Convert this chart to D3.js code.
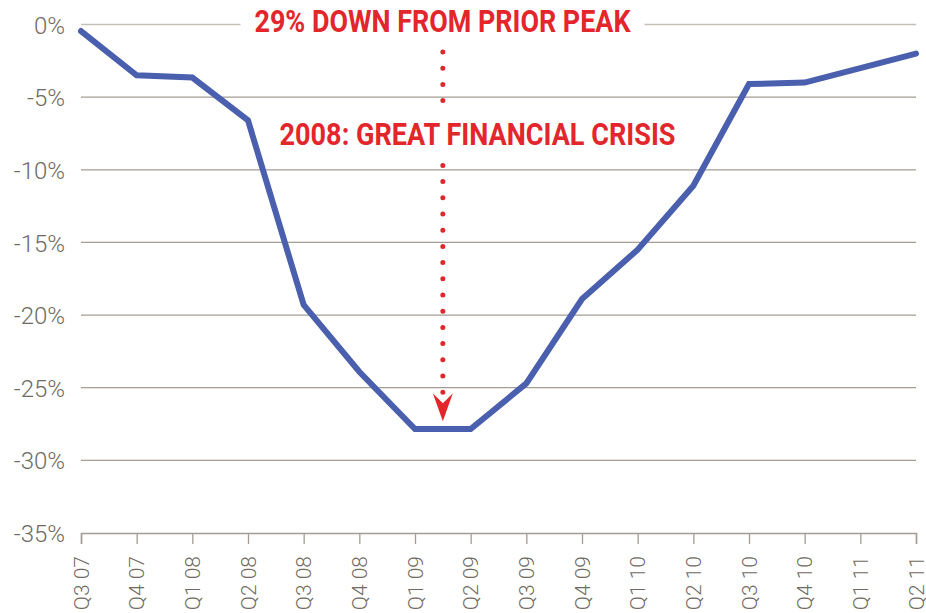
<!DOCTYPE html>
<html>
<head>
<meta charset="utf-8">
<title>29% down from prior peak</title>
<script src="https://d3js.org/d3.v7.min.js"></script>
<style>
  body { margin: 0; background: #fff; }
  #plot { width: 926px; height: 613px; }
  text { font-family: Roboto, "DejaVu Sans", sans-serif; }
</style>
</head>
<body>
<div id="plot"></div>
<script>
// quarters on the x axis
var quarters = ['Q3 07','Q4 07','Q1 08','Q2 08','Q3 08','Q4 08','Q1 09','Q2 09',
                'Q3 09','Q4 09','Q1 10','Q2 10','Q3 10','Q4 10','Q1 11','Q2 11']
// drawdown from prior peak, %
var drawdown = [-0.45, -3.5, -3.65, -6.6, -19.3, -23.9, -27.85, -27.85,
                -24.7, -18.9, -15.5, -11.1, -4.1, -4.0, -3.0, -2.0]
var yTicks = [0, -5, -10, -15, -20, -25, -30, -35]
var topNote = '29% DOWN FROM PRIOR PEAK'
var midNote = '2008: GREAT FINANCIAL CRISIS'
var noteQuarter = 6.5   // arrow sits between Q1 09 and Q2 09

var margin = {top: 24, bottom: 80, left: 81, right: 10}
var width = 926 - margin.left - margin.right
var height = 613 - margin.top - margin.bottom

var svg = d3.select('#plot').append('svg')
    .attr('width', 926)
    .attr('height', 613)
  .append('g')
    .attr('transform', 'translate(' + margin.left + ',' + margin.top + ')')

var xScale = d3.scaleLinear()
    .domain([0, quarters.length - 1])
    .range([0, width])
var yScale = d3.scaleLinear()
    .domain([0, -35])
    .range([0.5, height])

var grey = '#a39d94'
var red = '#e3262b'

// gridlines
svg.selectAll('.grid')
    .data(yTicks.slice(0, -1))
    .enter().append('line')
      .attr('class', 'grid')
      .attr('x1', 0).attr('x2', width)
      .attr('y1', function(d){ return yScale(d) })
      .attr('y2', function(d){ return yScale(d) })
      .attr('stroke', function(d){ return d == 0 ? '#c4c0b8' : grey })
      .attr('stroke-width', 1.3)

// y labels
var yAxis = svg.append('g')
    .call(d3.axisLeft(yScale).tickValues(yTicks).tickSize(0).tickPadding(16)
      .tickFormat(function(d){ return (d == 0 ? '' : '-') + Math.abs(d) + '%' }))
yAxis.select('.domain').remove()
yAxis.selectAll('text')
    .attr('fill', '#6f6a62')
    .style('font-size', '24px')
    .style('font-weight', 300)
    .attr('dy', '0.36em')

// x axis
var xAxis = svg.append('g')
    .attr('transform', 'translate(0,' + height + ')')
    .call(d3.axisBottom(xScale)
      .tickValues(d3.range(quarters.length)).tickSize(11).tickPadding(12)
      .tickFormat(function(d){ return quarters[d] }))
xAxis.select('.domain').attr('stroke', grey).attr('stroke-width', 1.5)
xAxis.selectAll('line').attr('stroke', grey).attr('stroke-width', 1.3)
xAxis.selectAll('text')
    .attr('fill', '#6f6a62')
    .style('font-size', '21px')
    .style('font-weight', 300)
    .attr('text-anchor', 'end')
    .attr('transform', 'rotate(-90)')
    .attr('x', -23).attr('y', 0).attr('dy', '0.34em')

// the drawdown line
var line = d3.line()
    .x(function(d, i){ return xScale(i) })
    .y(function(d){ return yScale(d) })
svg.append('path')
    .datum(drawdown)
    .attr('d', line)
    .attr('fill', 'none')
    .attr('stroke', '#4a5fad')
    .attr('stroke-width', 6)
    .attr('stroke-linejoin', 'miter')
    .attr('stroke-linecap', 'round')

// dotted arrow
var ax = xScale(noteQuarter)
var arrowTip = yScale(-27.3)
svg.append('line')
    .attr('x1', ax).attr('x2', ax)
    .attr('y1', 28).attr('y2', 369)
    .attr('stroke', red)
    .attr('stroke-width', 5)
    .attr('stroke-linecap', 'round')
    .attr('stroke-dasharray', '0,16.2')
svg.append('path')
    .attr('d', 'M' + (ax - 10) + ',' + (arrowTip - 28) + ' L' + ax + ',' + (arrowTip - 18) +
               ' L' + (ax + 10) + ',' + (arrowTip - 28) + ' L' + ax + ',' + arrowTip + 'Z')
    .attr('fill', red)

// notes with white backing
function note(txt, cx, cy, w, padX, top, bot) {
  svg.append('rect')
    .attr('x', cx - w / 2 - padX).attr('y', cy - top)
    .attr('width', w + 2 * padX).attr('height', top + bot)
    .attr('fill', '#fff')
  svg.append('text')
    .attr('x', cx).attr('y', cy)
    .attr('text-anchor', 'middle')
    .attr('fill', red)
    .style('font-size', '31px')
    .style('font-weight', 700)
    .attr('textLength', w)
    .attr('lengthAdjust', 'spacingAndGlyphs')
    .text(txt)
}
note(topNote, 442.5 - margin.left, 32 - margin.top, 376, 14, 30, 14)
note(midNote, 477.5 - margin.left, 145 - margin.top, 396, 8, 32, 8)
</script>
</body>
</html>
